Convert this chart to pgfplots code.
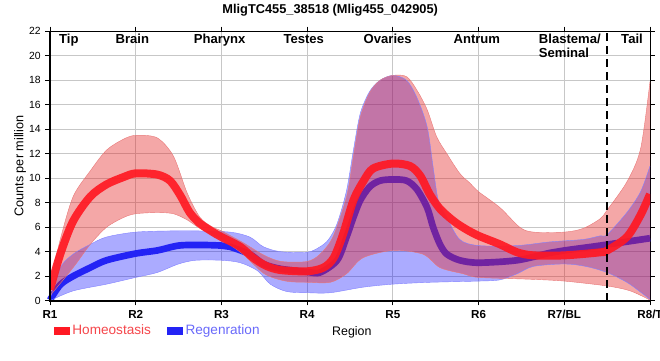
\documentclass[border=0pt]{standalone}
\usepackage{pgfplots}
\pgfplotsset{compat=1.18}
\usepgfplotslibrary{fillbetween}
\usepackage{fontspec}
\setmainfont{Liberation Sans}
\definecolor{hmred}{RGB}{255,25,35}
\definecolor{bandred}{RGB}{228,35,35}
\definecolor{edgered}{RGB}{232,120,120}
\definecolor{rgblue}{RGB}{35,35,245}
\definecolor{bandblue}{RGB}{0,0,255}
\definecolor{edgeblue}{RGB}{130,130,255}
\definecolor{hmtext}{RGB}{245,70,75}
\definecolor{rgtext}{RGB}{105,105,250}
\pgfplotsset{layers/mylayers/.define layer set={axis background,axis grid,axis ticks,axis lines,axis tick labels,bband,bline,pre main,main,axis descriptions,axis foreground}{/pgfplots/layers/standard}}
\begin{document}
\begin{tikzpicture}
\begin{axis}[name=ax, set layers=mylayers, scale only axis, width=450pt, height=202pt,
  xmin=1, xmax=8, ymin=0, ymax=22,
  xtick={1,...,8}, xticklabels={R1,R2,R3,R4,R5,R6,R7/BL,R8/T},
  ytick={0,2,...,22},
  grid=major, major grid style={black!22, line width=0.75pt},
  tick align=outside, major tick length=3.5pt, tick style={black, line width=0.75pt},
  axis line style={black, line width=0.75pt},
  /pgf/number format/assume math mode=true,
  xticklabel style={font=\bfseries\fontsize{8.7}{10}\selectfont},
  yticklabel style={font=\fontsize{7.8}{9}\selectfont},
  title={MligTC455\_38518 (Mlig455\_042905)},
  every axis title/.style={font=\bfseries\fontsize{9.6}{11}\selectfont, at={(0.467,1)}, anchor=center, yshift=16pt},
  ylabel={Counts per million},
  ylabel style={font=\fontsize{9.5}{11}\selectfont, at={(-0.05,0.5)}, anchor=center},
  xlabel={Region},
  xlabel style={font=\fontsize{9.3}{11}\selectfont, at={(0.503,-0.118)}, anchor=center},
  legend style={at={(0.006,-0.111)}, anchor=west, legend columns=2, draw=none, fill=none,
    inner sep=0pt, font=\fontsize{10.2}{12}\selectfont,
    /tikz/every even column/.append style={column sep=10pt}},
  after end axis/.code={\draw[black, line width=1.6pt] (rel axis cs:0,1) -- (rel axis cs:0,0) -- (rel axis cs:1,0);}
]
% Regeneration band
\addplot[name path=bu, draw=edgeblue, line width=0.3pt, smooth, forget plot] coordinates {
(1.0,0.1) (1.12,2.7) (1.27,3.8) (1.47,4.6) (1.66,5.2) (2.0,5.6) (2.44,5.7) (2.7,5.7) (3.1,5.6) (3.33,5.2) (3.49,4.4) (3.69,4.0) (4.0,3.95) (4.15,4.4) (4.25,5.0) (4.35,6.3) (4.46,9.0) (4.54,12.3) (4.62,15.3) (4.73,17.1) (4.85,18.0) (5.0,18.4) (5.16,18.0) (5.28,16.6) (5.4,14.2) (5.47,10.9) (5.53,8.2) (5.63,6.8) (5.78,5.0) (6.0,4.5) (6.45,4.5) (6.83,4.8) (7.22,5.0) (7.42,5.3) (7.5,5.4) (7.73,7.2) (7.89,8.9) (8.0,11.0)};
\addplot[name path=bl, draw=edgeblue, line width=0.3pt, smooth, forget plot] coordinates {
(1.0,0.0) (1.27,0.8) (1.66,1.35) (2.0,1.9) (2.25,2.3) (2.5,3.0) (2.7,3.3) (3.0,3.3) (3.22,3.1) (3.42,2.45) (3.57,1.35) (3.76,0.75) (4.0,0.65) (4.27,0.65) (4.65,1.1) (5.0,1.35) (5.43,1.5) (6.0,1.6) (6.25,1.7) (6.45,2.2) (6.64,2.8) (7.0,3.0) (7.25,2.8) (7.5,2.3) (7.73,1.5) (7.89,0.7) (8.0,0.1)};
\addplot[bandblue, fill opacity=0.33, draw=none, forget plot] fill between[of=bu and bl, on layer=bband];
% Regeneration mean
\addplot[rgblue, line width=5pt, smooth, forget plot, on layer=bline] coordinates {
(1.0,0.05) (1.12,1.3) (1.27,2.0) (1.47,2.7) (1.66,3.3) (2.0,3.85) (2.25,4.1) (2.5,4.5) (2.75,4.55) (3.0,4.5) (3.1,4.4) (3.33,3.8) (3.49,3.0) (3.69,2.6) (4.0,2.35) (4.15,2.3) (4.35,3.3) (4.46,5.2) (4.54,6.8) (4.62,8.2) (4.73,9.3) (4.85,9.8) (5.0,9.9) (5.16,9.8) (5.28,9.1) (5.4,7.6) (5.47,6.0) (5.55,4.6) (5.63,3.8) (5.78,3.3) (6.0,3.1) (6.45,3.3) (6.83,3.9) (7.0,4.1) (7.42,4.5) (8.0,5.1)};
% Homeostasis band
\addplot[name path=ru, draw=edgered, line width=0.3pt, smooth, forget plot] coordinates {
(1.0,1.4) (1.12,5.0) (1.27,8.5) (1.47,10.6) (1.66,12.3) (1.86,13.2) (2.0,13.5) (2.25,13.3) (2.44,11.8) (2.6,8.8) (2.75,6.8) (2.9,6.0) (3.0,5.7) (3.25,4.75) (3.5,3.7) (3.7,3.2) (4.0,3.2) (4.15,3.8) (4.3,5.2) (4.46,8.5) (4.54,11.8) (4.62,15.0) (4.73,17.0) (4.85,18.0) (5.0,18.4) (5.16,18.3) (5.28,17.2) (5.4,15.6) (5.51,13.4) (5.63,12.0) (5.78,10.4) (5.9,9.6) (6.0,8.9) (6.25,7.6) (6.48,6.0) (6.64,5.6) (7.0,5.6) (7.22,5.9) (7.42,6.7) (7.5,7.4) (7.73,9.7) (7.89,12.4) (8.0,17.9)};
\addplot[name path=rl, draw=edgered, line width=0.3pt, smooth, forget plot] coordinates {
(1.0,0.4) (1.27,2.7) (1.47,4.6) (1.66,6.0) (1.86,6.8) (2.0,7.1) (2.25,7.2) (2.44,7.1) (2.6,6.6) (2.75,5.9) (3.0,5.0) (3.25,3.8) (3.5,2.2) (3.75,1.6) (4.0,1.5) (4.27,1.5) (4.46,2.2) (4.65,3.5) (5.0,4.1) (5.35,3.8) (5.55,2.7) (5.82,2.2) (6.0,1.9) (6.6,1.75) (7.0,1.6) (7.5,1.2) (7.77,0.8) (8.0,0.05)};
\addplot[bandred, fill opacity=0.4, draw=none, forget plot] fill between[of=ru and rl];
% Homeostasis mean
\addplot[hmred, line width=6pt, opacity=0.92, smooth, forget plot] coordinates {
(1.0,0.9) (1.12,3.8) (1.27,6.5) (1.47,8.5) (1.66,9.5) (1.86,10.1) (2.0,10.4) (2.25,10.3) (2.4,9.8) (2.52,8.6) (2.63,7.2) (2.75,6.3) (2.9,5.6) (3.0,5.2) (3.22,4.4) (3.37,3.5) (3.52,2.85) (3.69,2.5) (4.0,2.4) (4.19,2.7) (4.31,3.5) (4.42,5.45) (4.54,8.2) (4.66,9.8) (4.77,10.8) (5.0,11.2) (5.2,11.0) (5.32,10.2) (5.43,8.7) (5.55,7.5) (5.71,6.5) (5.85,5.85) (6.0,5.3) (6.25,4.6) (6.45,3.95) (6.64,3.7) (7.0,3.7) (7.42,3.95) (7.5,4.1) (7.73,5.2) (7.89,7.0) (8.0,8.7)};
% divider
\addplot[black, line width=2pt, dash pattern=on 6pt off 3.75pt, forget plot] coordinates {(7.5,0) (7.5,22)};
% region labels
\begin{scope}[every node/.style={font=\bfseries\fontsize{9.8}{10.5}\selectfont, anchor=base}]
\node at (axis cs:1.22,21.0) {Tip};
\node at (axis cs:1.96,21.0) {Brain};
\node at (axis cs:2.98,21.0) {Pharynx};
\node at (axis cs:3.96,21.0) {Testes};
\node at (axis cs:4.94,21.0) {Ovaries};
\node at (axis cs:5.98,21.0) {Antrum};
\node[anchor=base west] at (axis cs:6.65,21.0) {Blastema/};
\node[anchor=base west] at (axis cs:6.65,19.85) {Seminal};
\node at (axis cs:7.79,21.0) {Tail};
\end{scope}
\addlegendimage{legend image code/.code={\fill[hmred] (0pt,-2.6pt) rectangle (11.5pt,2.6pt);}}
\addlegendentry{\textcolor{hmtext}{Homeostasis}}
\addlegendimage{legend image code/.code={\fill[rgblue] (0pt,-2.6pt) rectangle (11.5pt,2.6pt);}}
\addlegendentry{\textcolor{rgtext}{Regenration}}
\end{axis}
\pgfresetboundingbox
\path ([shift={(-37.5pt,-45pt)}]ax.south west) rectangle ([shift={(7.5pt,23.5pt)}]ax.north east);
\end{tikzpicture}
\end{document}
